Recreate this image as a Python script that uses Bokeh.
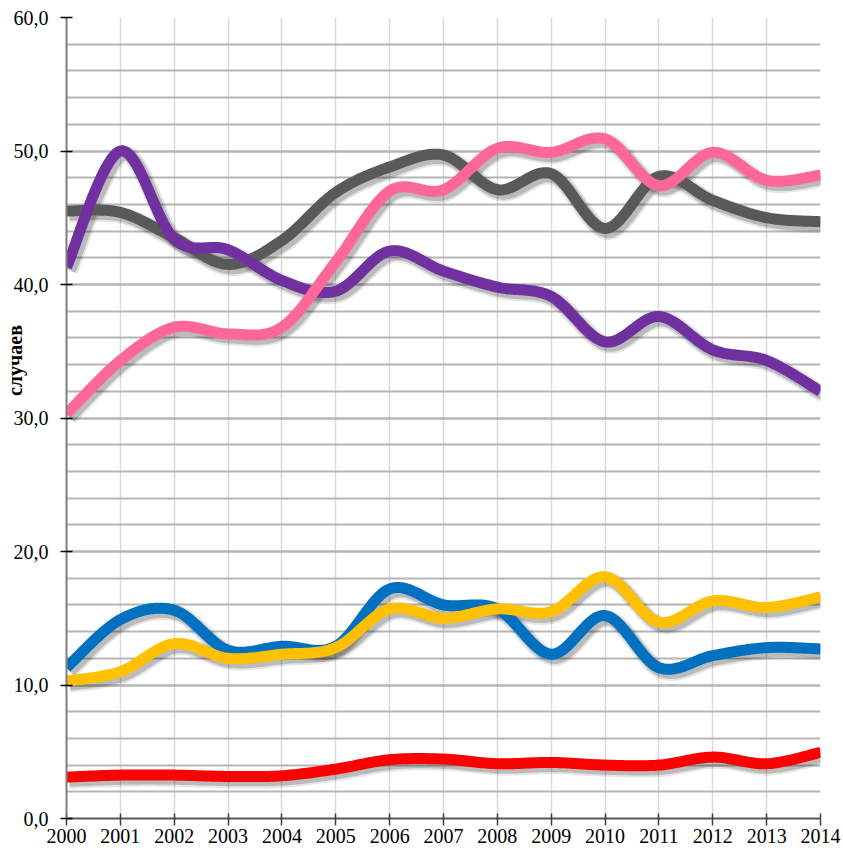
import numpy as np
from bokeh.plotting import figure
from bokeh.models import FixedTicker, Range1d
from bokeh.embed import file_html
from bokeh.resources import INLINE

# ---------------- data ----------------
years = list(range(2000, 2015))
purple = [41.3, 50.0, 43.4, 42.6, 40.3, 39.5, 42.5, 41.0, 39.8, 39.1, 35.7, 37.6, 35.1, 34.3, 32.0]
gray = [45.5, 45.4, 43.5, 41.5, 43.3, 46.9, 48.8, 49.7, 47.1, 48.3, 44.2, 48.1, 46.3, 45.0, 44.7]
pink = [30.3, 34.3, 36.8, 36.3, 36.8, 41.7, 47.0, 47.1, 50.2, 49.9, 50.9, 47.4, 49.9, 47.8, 48.2]
blue = [11.3, 14.9, 15.6, 12.6, 12.9, 12.9, 17.2, 16.0, 15.7, 12.3, 15.2, 11.3, 12.2, 12.8, 12.7]
yellow = [10.3, 11.0, 13.1, 12.0, 12.3, 12.8, 15.7, 15.0, 15.7, 15.5, 18.1, 14.7, 16.3, 15.8, 16.6]
red = [3.1, 3.25, 3.25, 3.15, 3.2, 3.7, 4.4, 4.45, 4.1, 4.2, 4.0, 4.0, 4.6, 4.1, 4.95]

y_ticks = [0, 10, 20, 30, 40, 50, 60]
y_tick_labels = ["0,0", "10,0", "20,0", "30,0", "40,0", "50,0", "60,0"]
y_minor = list(range(0, 62, 2))
y_title = "случаев"

series = [
    (blue, "#0070C0"),
    (yellow, "#FFC000"),
    (red, "#FF0000"),
    (gray, "#595959"),
    (purple, "#7030A0"),
    (pink, "#FF6699"),
]


def smooth(xs, ys, n=24):
    """Excel-like smoothed line (cardinal Bezier through the points)."""
    P = np.column_stack([np.asarray(xs, float), np.asarray(ys, float)])
    out = []
    m = len(P)
    t = np.linspace(0, 1, n, endpoint=False)[:, None]
    for i in range(m - 1):
        p0 = P[i - 1] if i > 0 else P[i]
        p1, p2 = P[i], P[i + 1]
        p3 = P[i + 2] if i + 2 < m else P[i + 1]
        c1 = p1 + (p2 - p0) / 6.0
        c2 = p2 - (p3 - p1) / 6.0
        seg = ((1 - t) ** 3) * p1 + 3 * ((1 - t) ** 2) * t * c1 + 3 * (1 - t) * t ** 2 * c2 + t ** 3 * p2
        out.append(seg)
    out.append(P[-1:])
    Q = np.vstack(out)
    return Q[:, 0], Q[:, 1]


FONT = "Liberation Serif"

p = figure(width=843, height=851, output_backend="svg", toolbar_location=None,
           x_range=Range1d(2000, 2014), y_range=Range1d(0, 60),
           min_border_left=65, min_border_right=23, min_border_top=17, min_border_bottom=33)
p.outline_line_color = None

# x axis
p.xaxis.ticker = FixedTicker(ticks=years)
p.xaxis.major_label_overrides = {y: str(y) for y in years}
p.xaxis.major_tick_in = 5
p.xaxis.major_tick_out = 7
p.xaxis.minor_tick_in = 0
p.xaxis.minor_tick_out = 0
p.xaxis.major_tick_line_color = "#404040"
p.xaxis.major_tick_line_width = 1.5
p.xaxis.axis_line_color = "#595959"
p.xaxis.axis_line_width = 2
p.xaxis.major_label_text_font = FONT
p.xaxis.major_label_text_font_size = "20px"
p.xaxis.major_label_text_color = "black"
p.xaxis.major_label_standoff = 3

# y axis
p.yaxis.ticker = FixedTicker(ticks=y_ticks, minor_ticks=y_minor)
p.yaxis.major_label_overrides = dict(zip(y_ticks, y_tick_labels))
p.yaxis.major_tick_in = 6
p.yaxis.major_tick_out = 6
p.yaxis.minor_tick_in = 0
p.yaxis.minor_tick_out = 0
p.yaxis.major_tick_line_color = "black"
p.yaxis.major_tick_line_width = 1.5
p.yaxis.axis_line_color = "#7f7f7f"
p.yaxis.axis_line_width = 2
p.yaxis.major_label_text_font = FONT
p.yaxis.major_label_text_font_size = "20px"
p.yaxis.major_label_text_color = "black"
p.yaxis.major_label_standoff = 12
# axis title sits beside the tick labels, a little above the middle
p.yaxis.axis_label = "\u00a0" * 23 + y_title
p.yaxis.axis_label_standoff = -15
p.yaxis.axis_label_text_font = FONT
p.yaxis.axis_label_text_font_style = "bold"
p.yaxis.axis_label_text_font_size = "20px"
p.yaxis.axis_label_text_color = "black"

# grids
p.xgrid.grid_line_color = "#d9d9d9"
p.xgrid.grid_line_width = 1.5
p.ygrid.grid_line_color = "#b5b5b5"
p.ygrid.grid_line_width = 2
p.ygrid.minor_grid_line_color = "#b5b5b5"
p.ygrid.minor_grid_line_width = 2

# lines with soft shadow
dx = 0.055
dy = 0.24
for vals, col in series:
    sx, sy = smooth(years, vals)
    p.line(sx + dx, sy - dy, line_color="black", line_alpha=0.10, line_width=17,
           line_join="round", line_cap="butt")
    p.line(sx + dx, sy - dy, line_color="black", line_alpha=0.18, line_width=13,
           line_join="round", line_cap="butt")
for vals, col in series:
    sx, sy = smooth(years, vals)
    p.line(sx, sy, line_color=col, line_width=11, line_join="round", line_cap="butt")

open("out.html", "w").write(file_html(p, INLINE))
